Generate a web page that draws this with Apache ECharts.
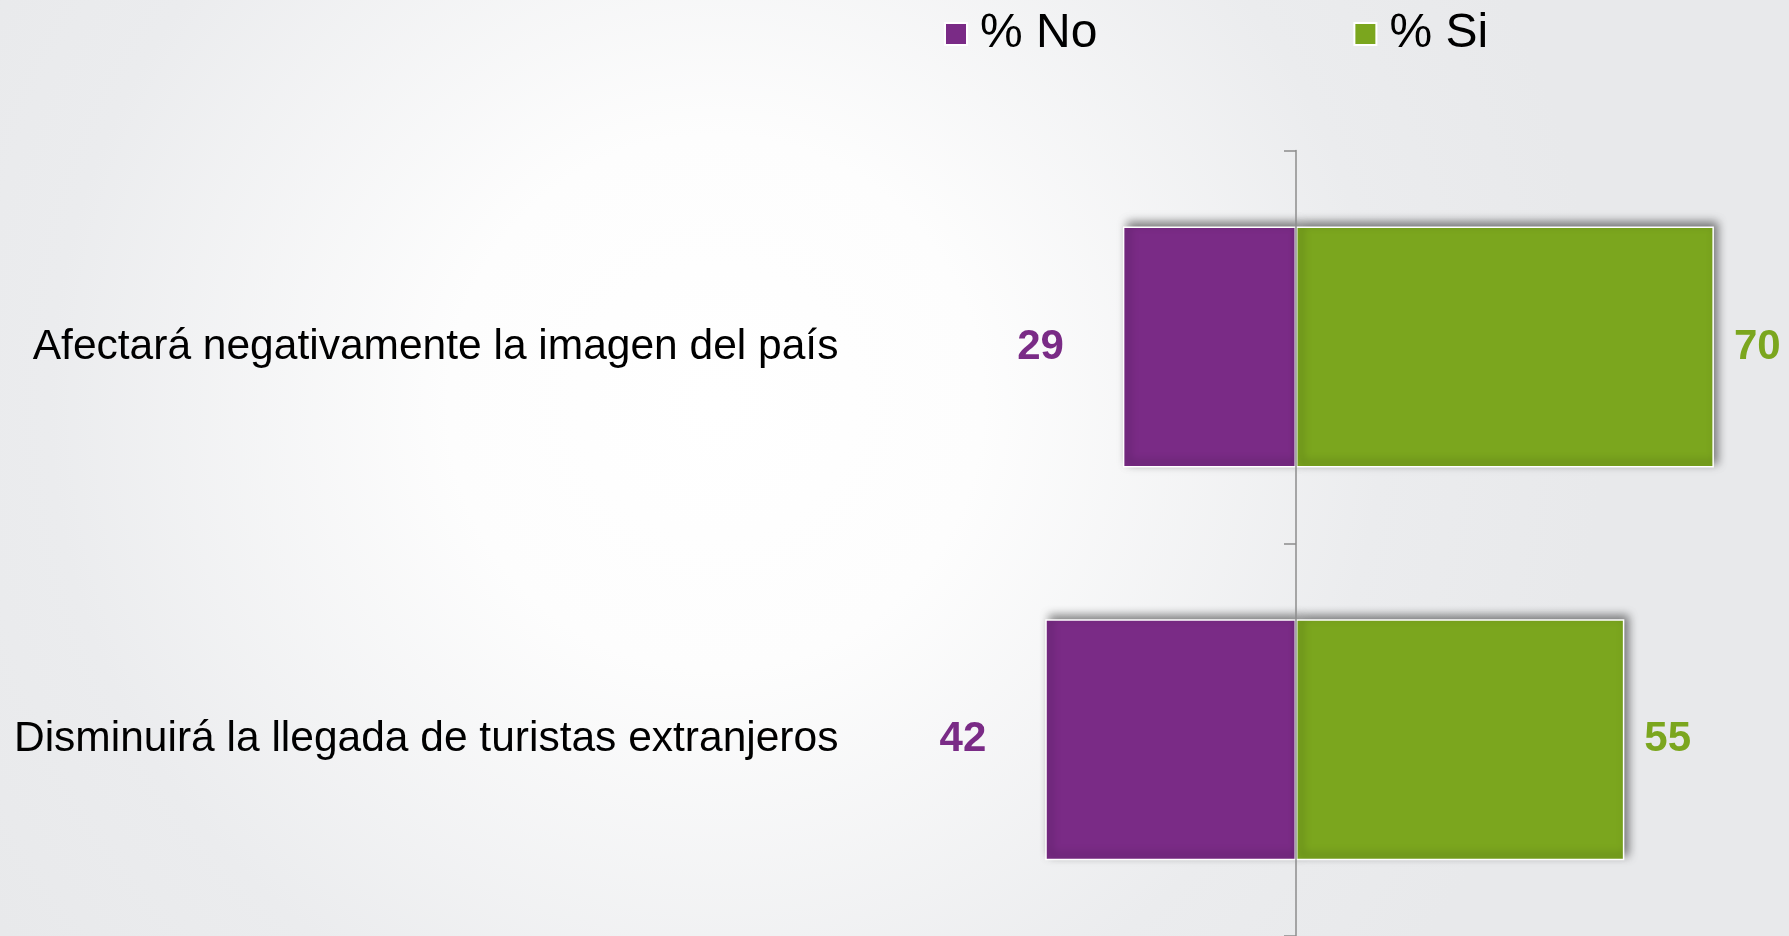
<!DOCTYPE html>
<html>
<head>
<meta charset="utf-8">
<script src="https://cdn.jsdelivr.net/npm/echarts@6/dist/echarts.min.js"></script>
<style>
html,body{margin:0;padding:0;}
#chart{width:1789px;height:936px;}
</style>
</head>
<body>
<div id="chart"></div>
<script>
var categories = ['Afectará negativamente la imagen del país', 'Disminuirá la llegada de turistas extranjeros'];
var seriesNames = ['% No', '% Si'];
var valuesNo = [29, 42];
var valuesSi = [70, 55];

var PURPLE = '#7a2b86';
var GREEN = '#7ba61e';
var FONT = '"Liberation Sans", Arial, sans-serif';

var chart = echarts.init(document.getElementById('chart'));
var barStyle = function (color) {
  return {
    color: color,
    borderColor: '#ffffff',
    borderWidth: 1.5,
    shadowColor: 'rgba(0,0,0,0.5)',
    shadowBlur: 9,
    shadowOffsetX: 4,
    shadowOffsetY: -4
  };
};
chart.setOption({
  backgroundColor: {
    type: 'radial', x: 0.4, y: 0.43, r: 0.95,
    colorStops: [
      {offset: 0, color: '#ffffff'},
      {offset: 0.3, color: '#fdfdfd'},
      {offset: 0.75, color: '#ebecee'},
      {offset: 1, color: '#e8e9eb'}
    ]
  },
  animation: false,
  textStyle: {fontFamily: FONT},
  legend: {
    data: seriesNames,
    left: 939,
    top: 5,
    icon: 'rect',
    itemWidth: 22,
    itemHeight: 22,
    itemGap: 256,
    textStyle: {fontSize: 48, color: '#000', fontFamily: FONT, padding: [0, 0, 0, 8]}
  },
  grid: {left: 818.4, right: 15.4, top: 150.6, bottom: 0, containLabel: false, outerBoundsMode: 'none'},
  xAxis: {
    type: 'value', min: -80, max: 80, show: false
  },
  yAxis: {
    type: 'category',
    data: categories,
    inverse: true,
    z: 5,
    axisLine: {show: true, onZero: true, lineStyle: {color: '#8c8c8c', width: 1.5}},
    axisTick: {show: true, length: 12, lineStyle: {color: '#8c8c8c', width: 1.5}},
    axisLabel: {margin: -20, fontSize: 42.5, color: '#000', fontFamily: FONT, padding: [9, 0, 0, 0]}
  },
  series: [
    {
      name: seriesNames[0],
      type: 'bar',
      stack: 'total',
      barWidth: 241,
      data: valuesNo.map(function (v) { return -v; }),
      itemStyle: barStyle(PURPLE),
      label: {
        show: true, position: 'left', distance: 59,
        formatter: function (p) { return Math.abs(p.value); },
        fontSize: 42, fontWeight: 'bold', color: PURPLE, fontFamily: FONT
      }
    },
    {
      name: seriesNames[1],
      type: 'bar',
      stack: 'total',
      barWidth: 241,
      data: valuesSi,
      itemStyle: barStyle(GREEN),
      label: {
        show: true, position: 'right', distance: 20,
        fontSize: 42, fontWeight: 'bold', color: GREEN, fontFamily: FONT
      }
    }
  ]
});
</script>
</body>
</html>
